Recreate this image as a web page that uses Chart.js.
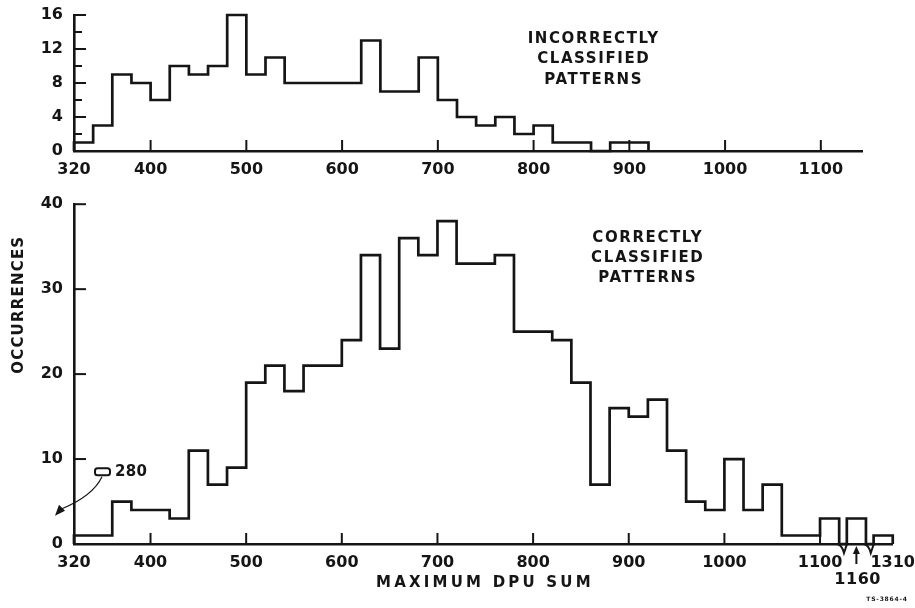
<!DOCTYPE html>
<html>
<head>
<meta charset="utf-8">
<script src="https://cdn.jsdelivr.net/npm/chart.js@4.4.1/dist/chart.umd.min.js"></script>
<style>
  html, body { margin: 0; padding: 0; background: #fff; }
  #wrap { position: relative; width: 915px; height: 608px; }
  #top-wrap { position: absolute; left: 0; top: 0; }
  #bot-wrap { position: absolute; left: 0; top: 190px; }
</style>
</head>
<body>
<div id="wrap">
  <div id="top-wrap"><canvas id="chart-incorrect" width="915" height="190"></canvas></div>
  <div id="bot-wrap"><canvas id="chart-correct" width="915" height="418"></canvas></div>
</div>
<script>
// ------------------------------------------------------------
// Maximum DPU sum histograms (20-unit bins)
// ------------------------------------------------------------
const BIN = 20;

const incorrectStart = 320;
const incorrectCounts = [1, 3, 9, 8, 6, 10, 9, 10, 16, 9, 11, 8, 8, 8, 8, 13, 7, 7, 11, 6, 4, 3, 4, 2, 3, 1, 1, 0, 1, 1];

const correctStart = 320;
const correctCounts = [1, 1, 5, 4, 4, 3, 11, 7, 9, 19, 21, 18, 21, 21, 24, 34, 23, 36, 34, 38,
                       33, 33, 34, 25, 25, 24, 19, 7, 16, 15, 17, 11, 5, 4, 10, 4, 7, 1, 1, 3];
// bins beyond the axis breaks
const correctTailStarts = [1150, 1290];
const correctTailCounts = [3, 1];
const outlierValue = 280;          // one pattern off the left end of the axis

const dpuTicks = [320, 400, 500, 600, 700, 800, 900, 1000, 1100];
const dpuEnd = 1310;
const arrowedValue = 1160;
const axisBreaks = [[1120, 1150], [1170, 1290]];

const incorrectYLabels = [0, 4, 8, 12, 16];
const incorrectYMarks = [2, 4, 6, 8, 10, 12, 14, 16];
const correctYLabels = [0, 10, 20, 30, 40];

const INK = "#151515";
const FONT = "'DejaVu Sans', sans-serif";
const BREAK_GAP = 8;

// squeeze the broken stretches of the DPU axis
function toAxis(v) {
  let shift = 0;
  for (const [a, b] of axisBreaks) {
    if (v >= b) shift += (b - a - BREAK_GAP);
    else if (v > a) shift += (v - a) * (1 - BREAK_GAP / (b - a));
  }
  return v - shift;
}

function stepPoints(starts, counts, map) {
  const pts = [{ x: map(starts[0]), y: 0 }];
  starts.forEach((s, i) => {
    pts.push({ x: map(s), y: counts[i] });
    const next = starts[i + 1];
    if (next === undefined || next !== s + BIN) pts.push({ x: map(s + BIN), y: 0 });
  });
  return pts;
}

const incorrectStarts = incorrectCounts.map((_, i) => incorrectStart + i * BIN);
const correctStarts = correctCounts.map((_, i) => correctStart + i * BIN).concat(correctTailStarts);
const correctAll = correctCounts.concat(correctTailCounts);

function line(ctx, x1, y1, x2, y2) { ctx.beginPath(); ctx.moveTo(x1, y1); ctx.lineTo(x2, y2); ctx.stroke(); }

function spacedText(ctx, txt, x, y, size, spacing, align) {
  ctx.save();
  ctx.font = `bold ${size}px ${FONT}`;
  ctx.letterSpacing = spacing + "px";
  ctx.fillStyle = INK;
  ctx.textBaseline = "middle";
  const w = ctx.measureText(txt).width - spacing;
  let x0 = x;
  if (align === "center") x0 = x - w / 2;
  else if (align === "right") x0 = x - w;
  ctx.textAlign = "left";
  ctx.fillText(txt, x0, y);
  ctx.restore();
}

// tick marks on the inside of the axes
const innerTicks = {
  id: "innerTicks",
  afterDatasetsDraw(chart, args, opts) {
    const { ctx, chartArea: a, scales: { x, y } } = chart;
    ctx.save();
    ctx.strokeStyle = INK;
    ctx.lineWidth = 2;
    opts.x.forEach(v => { const px = x.getPixelForValue(v); line(ctx, px, a.bottom, px, a.bottom - opts.xLen); });
    opts.y.forEach(v => {
      const py = y.getPixelForValue(v);
      const len = opts.major.includes(v) ? opts.yLen : opts.yLen - 4;
      line(ctx, a.left, py, a.left + len, py);
    });
    ctx.restore();
  }
};

const topNotes = {
  id: "topNotes",
  afterDraw(chart) {
    const { ctx, scales: { x, y } } = chart;
    const cx = x.getPixelForValue(862), cy = y.getPixelForValue(13.2);
    ["INCORRECTLY", "CLASSIFIED", "PATTERNS"].forEach((t, i) => spacedText(ctx, t, cx, cy + i * 20.5, 15, 1.6, "center"));
  }
};

const bottomNotes = {
  id: "bottomNotes",
  afterDraw(chart) {
    const { ctx, chartArea: a, scales: { x, y } } = chart;
    const cx = x.getPixelForValue(919), cy = y.getPixelForValue(36);
    ["CORRECTLY", "CLASSIFIED", "PATTERNS"].forEach((t, i) => spacedText(ctx, t, cx, cy + i * 20, 15, 1.6, "center"));

    spacedText(ctx, "MAXIMUM DPU SUM", (a.left + a.right) / 2, a.bottom + 39, 15, 3.2, "center");

    ctx.save();
    ctx.translate(19, y.getPixelForValue(28.1));
    ctx.rotate(-Math.PI / 2);
    spacedText(ctx, "OCCURRENCES", 0, 0, 15, 1.2, "center");
    ctx.restore();

    // axis break notches
    ctx.save();
    ctx.strokeStyle = INK; ctx.fillStyle = INK; ctx.lineWidth = 2;
    axisBreaks.forEach(([p, q]) => {
      const px = x.getPixelForValue((toAxis(p) + toAxis(q)) / 2);
      ctx.beginPath();
      ctx.moveTo(px - 6, a.bottom);
      ctx.quadraticCurveTo(px - 1, a.bottom + 1, px + 1, a.bottom + 9);
      ctx.lineTo(px + 4, a.bottom);
      ctx.stroke();
    });

    // arrow to 1160
    const ax = x.getPixelForValue(toAxis(arrowedValue));
    line(ctx, ax, a.bottom + 20, ax, a.bottom + 6);
    ctx.beginPath();
    ctx.moveTo(ax, a.bottom + 2); ctx.lineTo(ax - 3.5, a.bottom + 10); ctx.lineTo(ax + 3.5, a.bottom + 10); ctx.closePath(); ctx.fill();
    ctx.restore();
    spacedText(ctx, String(arrowedValue), ax + 1, a.bottom + 36, 16, 0.5, "center");

    // 280 outlier marker with curved pointer
    const oy = y.getPixelForValue(8.5);
    const bx = a.left + 21;
    ctx.save();
    ctx.strokeStyle = INK; ctx.lineWidth = 2;
    ctx.beginPath();
    ctx.roundRect(bx, oy - 3.5, 15, 7, 2.5);
    ctx.stroke();
    ctx.lineWidth = 1.2;
    ctx.beginPath();
    ctx.moveTo(bx + 7, oy + 5);
    ctx.quadraticCurveTo(bx - 2, oy + 24, a.left - 12, oy + 37);
    ctx.stroke();
    ctx.fillStyle = INK;
    ctx.beginPath();
    ctx.moveTo(a.left - 19, oy + 44);
    ctx.lineTo(a.left - 15, oy + 33);
    ctx.lineTo(a.left - 9, oy + 39);
    ctx.closePath(); ctx.fill();
    ctx.restore();
    spacedText(ctx, String(outlierValue), bx + 20, oy, 15, 0.3, "left");

    spacedText(ctx, "TS-3864-4", 907, 409, 6, 0.8, "right");
  }
};

// lineHeight is only used to keep Chart.js' edge padding for labels small
function axisFont(lh) { return { family: FONT, size: 16, weight: "bold", lineHeight: lh }; }

function histogram(canvasId, points, opts) {
  return new Chart(document.getElementById(canvasId), {
    type: "line",
    data: {
      datasets: [{
        data: points, stepped: true, borderColor: INK, borderWidth: 2.7,
        pointRadius: 0, fill: false, tension: 0, clip: false,
      }],
    },
    options: {
      responsive: false, animation: false,
      layout: { padding: opts.padding },
      plugins: { legend: { display: false }, tooltip: { enabled: false }, innerTicks: opts.inner },
      scales: {
        x: {
          type: "linear", min: opts.xMin, max: opts.xMax,
          grid: { display: false, drawTicks: false },
          border: { display: true, color: INK, width: 2.6 },
          afterBuildTicks: s => { s.ticks = opts.xTicks.map(v => ({ value: v })); },
          afterFit: s => { s.height = opts.xHeight; },
          ticks: { autoSkip: false, maxRotation: 0, padding: 0, color: INK, font: axisFont(2.3), callback: opts.xLabel },
        },
        y: {
          type: "linear", min: 0, max: opts.yMax,
          grid: { display: false, drawTicks: false },
          border: { display: true, color: INK, width: 2.6 },
          afterBuildTicks: s => { s.ticks = opts.yTicks.map(v => ({ value: v })); },
          afterFit: s => { s.width = 74; },
          ticks: { padding: 11, color: INK, font: axisFont(0.4) },
        },
      },
    },
    plugins: [innerTicks].concat(opts.extra),
  });
}

histogram("chart-incorrect", stepPoints(incorrectStarts, incorrectCounts, v => v), {
  padding: { top: 15, right: 53, bottom: 0, left: 0 },
  xMin: 320, xMax: 1143, xHeight: 39, yMax: 16,
  xTicks: dpuTicks, yTicks: incorrectYLabels,
  xLabel: v => v,
  inner: { x: dpuTicks.slice(1), xLen: 11, y: incorrectYMarks, major: incorrectYLabels, yLen: 12 },
  extra: [topNotes],
});

histogram("chart-correct", stepPoints(correctStarts, correctAll, toAxis), {
  padding: { top: 14, right: 20, bottom: 0, left: 0 },
  xMin: 320, xMax: toAxis(dpuEnd), xHeight: 64, yMax: 40,
  xTicks: dpuTicks.concat([toAxis(dpuEnd)]), yTicks: correctYLabels,
  xLabel: v => (v === toAxis(dpuEnd) ? dpuEnd : v),
  inner: { x: dpuTicks.slice(1), xLen: 11, y: correctYLabels.slice(1), major: correctYLabels, yLen: 12 },
  extra: [bottomNotes],
});
</script>
</body>
</html>
